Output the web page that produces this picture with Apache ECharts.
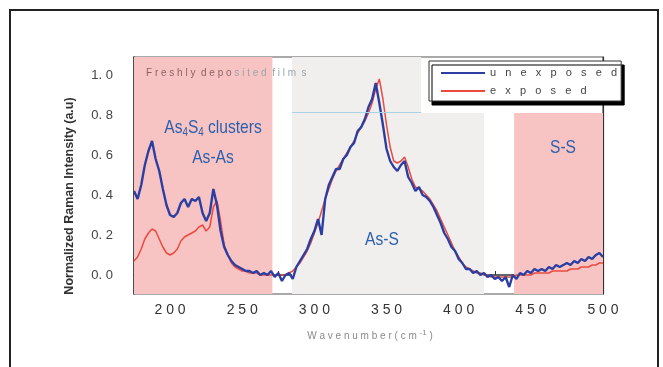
<!DOCTYPE html>
<html>
<head>
<meta charset="utf-8">
<script src="https://cdn.jsdelivr.net/npm/echarts@6/dist/echarts.min.js"></script>
<style>
  html, body { margin: 0; padding: 0; background: #fff; }
  #container { width: 663px; height: 367px; }
</style>
</head>
<body>
<div id="container"></div>
<script>
// raman spectra, every 2.5 cm-1
var wavenumber = [
  175,177.5,180,182.5,185,187.5,190,192.5,195,197.5,
  200,202.5,205,207.5,210,212.5,215,217.5,220,222.5,
  225,227.5,230,232.5,235,237.5,240,242.5,245,247.5,
  250,252.5,255,257.5,260,262.5,265,267.5,270,272.5,
  275,277.5,280,282.5,285,287.5,290,292.5,295,297.5,
  300,302.5,305,307.5,310,312.5,315,317.5,320,322.5,
  325,327.5,330,332.5,335,337.5,340,342.5,345,347.5,
  350,352.5,355,357.5,360,362.5,365,367.5,370,372.5,
  375,377.5,380,382.5,385,387.5,390,392.5,395,397.5,
  400,402.5,405,407.5,410,412.5,415,417.5,420,422.5,
  425,427.5,430,432.5,435,437.5,440,442.5,445,447.5,
  450,452.5,455,457.5,460,462.5,465,467.5,470,472.5,
  475,477.5,480,482.5,485,487.5,490,492.5,495,497.5,
  500
];
var unexposed = [
  0.42,0.38,0.45,0.55,0.62,0.67,0.58,0.52,0.43,0.35,
  0.30,0.29,0.31,0.36,0.38,0.34,0.38,0.37,0.39,0.31,
  0.27,0.31,0.43,0.35,0.22,0.14,0.10,0.07,0.05,0.04,
  0.03,0.02,0.02,0.01,0.02,0.00,0.01,0.00,0.02,-0.01,
  0.01,-0.03,0.00,0.01,-0.02,0.04,0.07,0.10,0.13,0.18,
  0.22,0.28,0.20,0.38,0.45,0.49,0.53,0.53,0.58,0.60,
  0.64,0.66,0.72,0.74,0.78,0.84,0.88,0.96,0.86,0.75,
  0.63,0.57,0.54,0.52,0.55,0.57,0.49,0.46,0.42,0.44,
  0.40,0.39,0.37,0.34,0.30,0.26,0.21,0.18,0.14,0.12,
  0.08,0.06,0.03,0.03,0.01,0.02,0.00,0.01,-0.01,0.00,
  -0.02,-0.01,-0.03,-0.01,-0.06,0.00,-0.02,0.01,0.00,0.02,
  0.01,0.03,0.02,0.03,0.02,0.04,0.03,0.05,0.04,0.05,
  0.06,0.05,0.07,0.06,0.08,0.07,0.09,0.08,0.10,0.11,
  0.09
];
var exposed = [
  0.07,0.09,0.13,0.18,0.21,0.23,0.22,0.18,0.14,0.11,
  0.10,0.11,0.13,0.17,0.19,0.20,0.21,0.22,0.24,0.25,
  0.22,0.24,0.34,0.37,0.27,0.15,0.10,0.06,0.04,0.03,
  0.02,0.02,0.01,0.01,0.01,0.00,0.00,0.00,0.00,0.00,
  0.00,0.00,0.00,0.01,0.02,0.04,0.06,0.09,0.12,0.16,
  0.21,0.26,0.32,0.38,0.43,0.48,0.52,0.55,0.58,0.61,
  0.64,0.67,0.71,0.74,0.77,0.81,0.86,0.93,0.98,0.88,
  0.75,0.64,0.57,0.56,0.57,0.59,0.54,0.48,0.44,0.43,
  0.42,0.40,0.38,0.35,0.32,0.28,0.24,0.20,0.16,0.12,
  0.09,0.06,0.04,0.03,0.02,0.01,0.01,0.00,0.00,-0.01,
  -0.01,-0.01,-0.01,-0.01,-0.01,-0.01,0.00,0.00,0.00,0.00,
  0.00,0.01,0.01,0.01,0.01,0.01,0.02,0.02,0.02,0.02,
  0.02,0.03,0.03,0.03,0.04,0.04,0.04,0.05,0.05,0.06,
  0.06
];
var xTickLabels = [200, 250, 300, 350, 400, 450, 500];
var yTickLabels = [0, 0.2, 0.4, 0.6, 0.8, 1.0];
var yTicks = [0, 0.1, 0.2, 0.3, 0.4, 0.5, 0.6, 0.7, 0.8, 0.9, 1.0];

// shaded bands: [x0, y0, x1, y1]
var pinkBands = [[175, -0.095, 270.9, 1.09], [438.4, -0.095, 500, 0.81]];
var greyBands = [[284.5, -0.095, 417.6, 0.81], [284.5, 0.81, 374, 1.09]];
var cyanLine = [[284.5, 0.815], [374, 0.815]];

function spaced(s, gap) { return s.split('').join(gap); }
function band(b) { return [{ coord: [b[0], b[1]] }, { coord: [b[2], b[3]] }]; }
function points(ys) { return wavenumber.map(function (x, i) { return [x, ys[i]]; }); }

var blue = '#2b3fa3', red = '#ea4a3f', txtBlue = '#2b5fae';

// condensed blue labels (the original uses a narrow face)
function tag(text, x, y) {
  return { type: 'text', x: x, y: y, z: 10, silent: true, scaleX: 0.82,
    style: { text: text, align: 'center', verticalAlign: 'middle', fill: txtBlue, font: '19px Liberation Sans',
      rich: { s: { fontSize: 12, fill: txtBlue, fontFamily: 'Liberation Sans', padding: [9, 0, 0, 0] } } } };
}

var chart = echarts.init(document.getElementById('container'));
var option = {
  backgroundColor: '#fff',
  animation: false,
  grid: {
    left: 134, right: 60, top: 57, bottom: 73,
    show: true, borderColor: '#555', borderWidth: 1.2, backgroundColor: 'transparent'
  },
  legend: {
    orient: 'vertical', left: 429, top: 61,
    data: ['unexposed', 'exposed'],
    icon: 'rect',
    itemWidth: 44, itemHeight: 2, itemGap: 4,
    padding: [5, 4, 3, 12],
    backgroundColor: '#fff', borderColor: '#333', borderWidth: 1,
    shadowColor: '#000', shadowBlur: 0, shadowOffsetX: 3, shadowOffsetY: 4,
    formatter: function (n) { return spaced(n, '   '); },
    textStyle: { color: '#444', fontSize: 11, lineHeight: 14, fontFamily: 'Liberation Sans' }
  },
  xAxis: {
    type: 'value', min: 175, max: 500, interval: 25,
    axisLine: { lineStyle: { color: '#333', width: 1.5 } },
    axisTick: { inside: true, length: 4, lineStyle: { color: '#333' } },
    axisLabel: {
      customValues: xTickLabels, margin: 9,
      color: '#333', fontSize: 14, fontFamily: 'Liberation Sans',
      formatter: function (v) { return spaced(String(v), ' '); }
    },
    splitLine: { show: false }
  },
  yAxis: [{
    type: 'value', min: -0.095, max: 1.09,
    axisLine: { show: true, lineStyle: { color: '#333', width: 1.5 } },
    axisTick: { show: true, inside: true, length: 4, customValues: yTicks, lineStyle: { color: '#555' } },
    axisLabel: {
      customValues: yTickLabels, margin: 21,
      color: '#444', fontSize: 13, fontFamily: 'Liberation Sans',
      formatter: function (v) { return v.toFixed(1).replace('.', '. '); }
    },
    splitLine: { show: false }
  }, {
    type: 'value', min: -0.095, max: 1.09, position: 'right',
    axisLine: { show: true, lineStyle: { color: '#333', width: 1.2 } },
    axisTick: { show: true, inside: true, length: 3, customValues: yTicks, lineStyle: { color: '#555' } },
    axisLabel: { show: false },
    splitLine: { show: false }
  }],
  series: [{
    name: 'exposed', type: 'line', symbol: 'none', z: 3,
    data: points(exposed),
    lineStyle: { color: red, width: 1.5 },
    itemStyle: { color: red },
    markArea: {
      silent: true,
      itemStyle: { color: '#f7c4c3' },
      data: pinkBands.map(band)
    }
  }, {
    name: 'unexposed', type: 'line', symbol: 'none', z: 4,
    data: points(unexposed),
    lineStyle: { color: blue, width: 2.4 },
    itemStyle: { color: blue },
    markArea: {
      silent: true,
      itemStyle: { color: '#f1efee' },
      data: greyBands.map(band)
    },
    markLine: {
      silent: true, symbol: 'none', label: { show: false },
      lineStyle: { color: '#a9d3e4', type: 'solid', width: 1.2 },
      data: [[{ coord: cyanLine[0] }, { coord: cyanLine[1] }]]
    }
  }],
  graphic: [
    { type: 'rect', shape: { x: 10, y: 10, width: 648, height: 380 }, silent: true,
      style: { fill: 'none', stroke: '#222', lineWidth: 2 } },
    { type: 'text', x: 70, y: 196, rotation: Math.PI / 2, silent: true,
      style: { text: 'Normalized Raman Intensity (a.u)', align: 'center', verticalAlign: 'middle',
        fill: '#333', font: 'bold 12.5px Liberation Sans' } },
    { type: 'text', x: 370, y: 336, silent: true,
      style: { text: spaced('Wavenumber', ' ') + ' ( c m {sup|-1} )', align: 'center', verticalAlign: 'middle',
        fill: '#8a8a8a', font: '10px Liberation Sans',
        rich: { sup: { fontSize: 8, verticalAlign: 'top', padding: [0, 0, 7, 0], fill: '#8a8a8a' } } } },
    { type: 'text', x: 146, y: 73, z: 10, silent: true,
      style: { text: '{a|' + spaced('Freshly', ' ') + '  ' + spaced('depo', ' ') + '}{b| ' + spaced('sited', ' ') + '  ' + spaced('film', ' ') + '  s}',
        verticalAlign: 'middle',
        rich: {
          a: { fill: '#8c6363', fontSize: 10, fontFamily: 'Liberation Sans' },
          b: { fill: '#9aa5ab', fontSize: 10, fontFamily: 'Liberation Sans' }
        } } },
    tag('As{s|4}S{s|4} clusters', 213, 128),
    tag('As-As', 213, 158),
    tag('As-S', 382, 240),
    tag('S-S', 563, 148)
  ]
};
chart.setOption(option);
</script>
</body>
</html>
